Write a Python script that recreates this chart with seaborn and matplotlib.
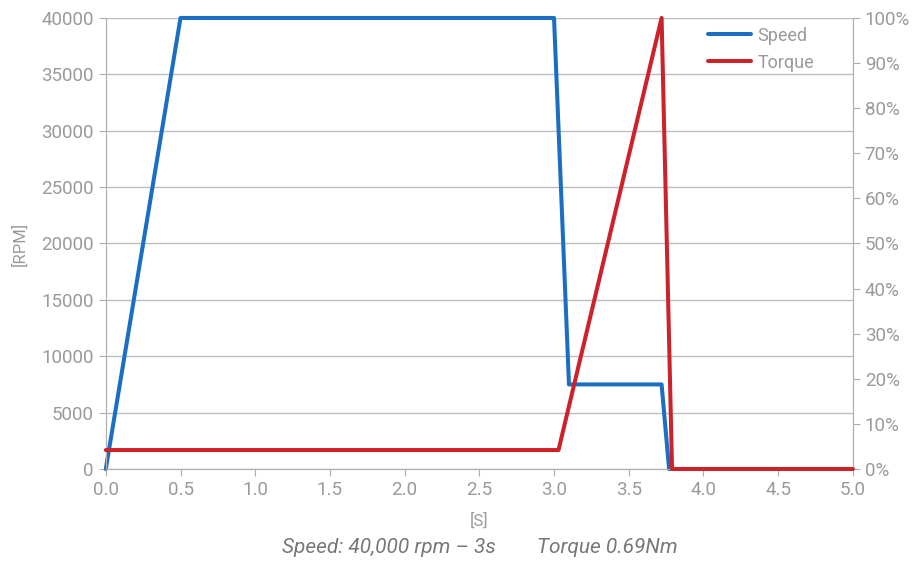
import matplotlib
matplotlib.use('agg')
import matplotlib.pyplot as plt
import matplotlib.ticker as mtick
import pandas as pd
import seaborn as sns

# speed profile (rpm) vs time (s)
speed_t = [0.0, 0.5, 3.0, 3.1, 3.72, 3.77, 5.0]
speed_rpm = [0, 40000, 40000, 7500, 7500, 0, 0]
# torque profile (% of max) vs time (s)
torque_t = [0.0, 3.03, 3.72, 3.79, 5.0]
torque_pct = [4.2, 4.2, 100, 0, 0]

grey = "#9a9a9a"
sns.set_style("white")
plt.rcParams['font.family'] = ['Roboto', 'DejaVu Sans']

speed = pd.DataFrame({"t": speed_t, "rpm": speed_rpm})
torque = pd.DataFrame({"t": torque_t, "pct": torque_pct})

fig = plt.figure(figsize=(9.2, 5.61), dpi=100)
ax = fig.add_axes([0.115, 0.164, 0.812, 0.804])
ax2 = ax.twinx()

sns.lineplot(data=speed, x="t", y="rpm", ax=ax, color="#1b6ec2", lw=2.9,
             label="Speed", legend=False, clip_on=False, zorder=3)
sns.lineplot(data=torque, x="t", y="pct", ax=ax2, color="#cc2229", lw=2.9,
             label="Torque", legend=False, clip_on=False, zorder=3)

ax.set_xlim(0, 5)
ax.set_ylim(0, 40000)
ax2.set_ylim(0, 100)
ax.set_xticks([i * 0.5 for i in range(11)])
ax.set_yticks(range(0, 40001, 5000))
ax2.set_yticks(range(0, 101, 10))
ax2.yaxis.set_major_formatter(mtick.FuncFormatter(lambda v, p: f"{v:.0f}%"))
ax.xaxis.set_major_formatter(mtick.FormatStrFormatter("%.1f"))

ax.grid(axis="y", color="#bdbdbd", lw=1)
ax.set_axisbelow(True)
for a in (ax, ax2):
    for s in a.spines.values():
        s.set_color("#b0b0b0")
    a.spines["top"].set_visible(False)
    a.tick_params(colors="#b0b0b0", labelcolor=grey, labelsize=13.5,
                  length=5, direction="out")
ax.tick_params(axis="y", left=True)
ax.tick_params(axis="x", bottom=True)
ax2.tick_params(axis="y", right=True)

ax.set_xlabel("[S]", color=grey, fontsize=12, labelpad=10)
ax.set_ylabel("[RPM]", color=grey, fontsize=12, labelpad=10)
ax2.set_ylabel("")

h1, l1 = ax.get_legend_handles_labels()
h2, l2 = ax2.get_legend_handles_labels()
leg = ax2.legend(h1 + h2, l1 + l2, loc="upper right", frameon=False,
                 fontsize=13, labelcolor=grey, handlelength=2.4,
                 handletextpad=0.35, labelspacing=0.5,
                 borderaxespad=0.0, bbox_to_anchor=(0.958, 0.997))

fig.text(0.522, 0.015, "Speed: 40,000 rpm \u2013 3s        Torque 0.69Nm",
         ha="center", color="#777777", fontsize=15, style="italic")

plt.savefig("out.png", dpi=100)
plt.close()
